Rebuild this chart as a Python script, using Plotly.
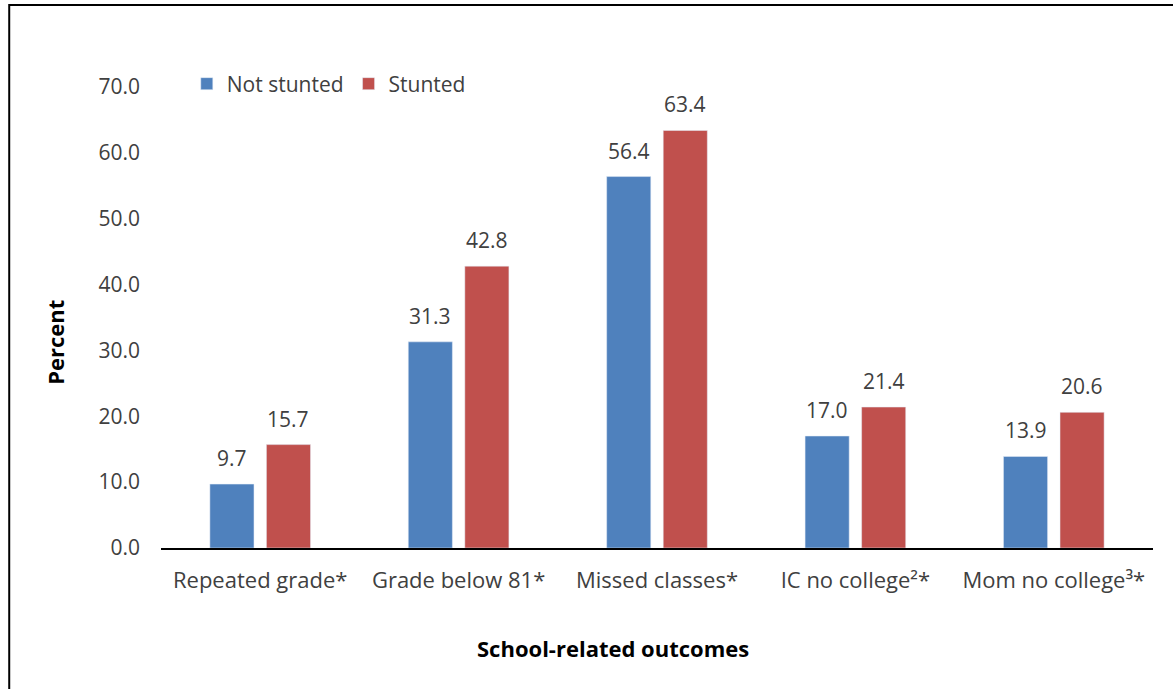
import plotly.graph_objects as go

categories = ["Repeated grade*", "Grade below 81*", "Missed classes*", "IC no college²*", "Mom no college³*"]
not_stunted = [9.7, 31.3, 56.4, 17.0, 13.9]
stunted = [15.7, 42.8, 63.4, 21.4, 20.6]
y_ticks = [0, 10, 20, 30, 40, 50, 60, 70]
y_tick_labels = [f"{v:.1f}" for v in y_ticks]

FONT = "Open Sans"
TXT = "#404040"
FS = 21

fig = go.Figure()
fig.add_trace(go.Bar(name="Not stunted", x=categories, y=not_stunted,
                     marker=dict(color="#4F81BD")))
fig.add_trace(go.Bar(name="Stunted", x=categories, y=stunted,
                     marker=dict(color="#C0504D")))

annotations = []
for series, shift in ((not_stunted, -28.25), (stunted, 28.25)):
    for cat, v in zip(categories, series):
        annotations.append(dict(x=cat, y=v, xref="x", yref="y", text=f"{v:.1f}",
                                showarrow=False, xshift=shift, yshift=10,
                                yanchor="bottom", xanchor="center",
                                font=dict(family=FONT, size=FS, color=TXT)))
annotations.append(dict(text="<b>School-related outcomes</b>", xref="paper", yref="paper",
                        x=0.456, y=-0.217, showarrow=False, xanchor="center", yanchor="middle",
                        font=dict(family=FONT, size=22, color="black")))
annotations.append(dict(text="<b>Percent</b>", xref="paper", yref="paper", textangle=-90,
                        x=-0.107, y=0.447, showarrow=False, xanchor="center", yanchor="middle",
                        font=dict(family=FONT, size=22, color="black")))

fig.update_layout(
    width=1173, height=689,
    margin=dict(l=161, r=20, t=87, b=141, autoexpand=False),
    paper_bgcolor="white", plot_bgcolor="white",
    barmode="group", bargap=0.43, bargroupgap=0.22,
    font=dict(family=FONT, size=FS, color=TXT),
    legend=dict(orientation="h", x=0.026, y=1.0065, xanchor="left", yanchor="middle",
                font=dict(family=FONT, size=FS, color=TXT), bgcolor="rgba(0,0,0,0)",
                itemwidth=30, traceorder="normal"),
    xaxis=dict(showline=True, linecolor="black", linewidth=1.5, ticks="",
               ticklabelstandoff=12,
               tickfont=dict(family=FONT, size=22, color=TXT)),
    yaxis=dict(range=[0, 70], tickvals=y_ticks, ticktext=y_tick_labels, showgrid=False,
               zeroline=False, showline=False, ticks="", ticklabelstandoff=20,
               tickfont=dict(family=FONT, size=FS, color=TXT)),
    annotations=annotations,
    shapes=[dict(type="rect", xref="paper", yref="paper",
                 x0=-0.153, x1=1.05, y0=-0.4, y1=1.178,
                 line=dict(color="black", width=2), fillcolor="rgba(0,0,0,0)", layer="below")],
)

fig.write_html("out.html", config={"displayModeBar": False},
               post_script="document.body.style.margin='0';document.body.style.overflow='hidden';")
